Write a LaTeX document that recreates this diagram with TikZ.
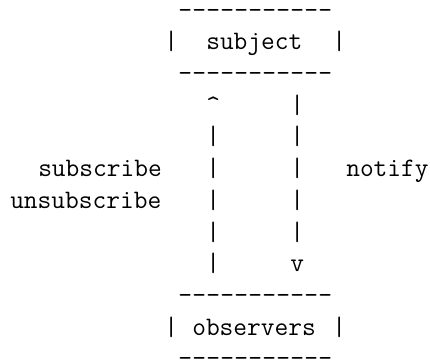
\documentclass[tikz,border=0pt]{standalone}
\usepackage{fontspec}
\begin{document}
\begin{tikzpicture}[x=10.5pt,y=-23.78pt,
  every node/.style={inner sep=0pt,anchor=base west,font=\ttfamily\fontsize{20}{24}\selectfont}]
  \useasboundingbox (-0.714,0.428) rectangle (30,11.908);
  % box rules
  \foreach \y in {1,3,10,12}
  {
    \foreach \x in {12,...,22}
      \node at (\x,\y) {-};
  }
  % box sides
  \foreach \y in {2,11}
  {
    \node (l\y) at (11,\y) {|};
    \node (r\y) at (23,\y) {|};
  }
  \node (subj) at (14,2) {subject};
  \node (obs) at (13,11) {observers};
  % up and down lines
  \node (up) at (14,4) {\textasciicircum};
  \foreach \y in {5,...,9}
    \node (a\y) at (14,\y) {|};
  \foreach \y in {4,...,8}
    \node (b\y) at (20,\y) {|};
  \node (down) at (20,9) {v};
  \node (sub) at (2,6) {subscribe};
  \node (unsub) at (0,7) {unsubscribe};
  \node (notify) at (24,6) {notify};
\end{tikzpicture}
\end{document}
